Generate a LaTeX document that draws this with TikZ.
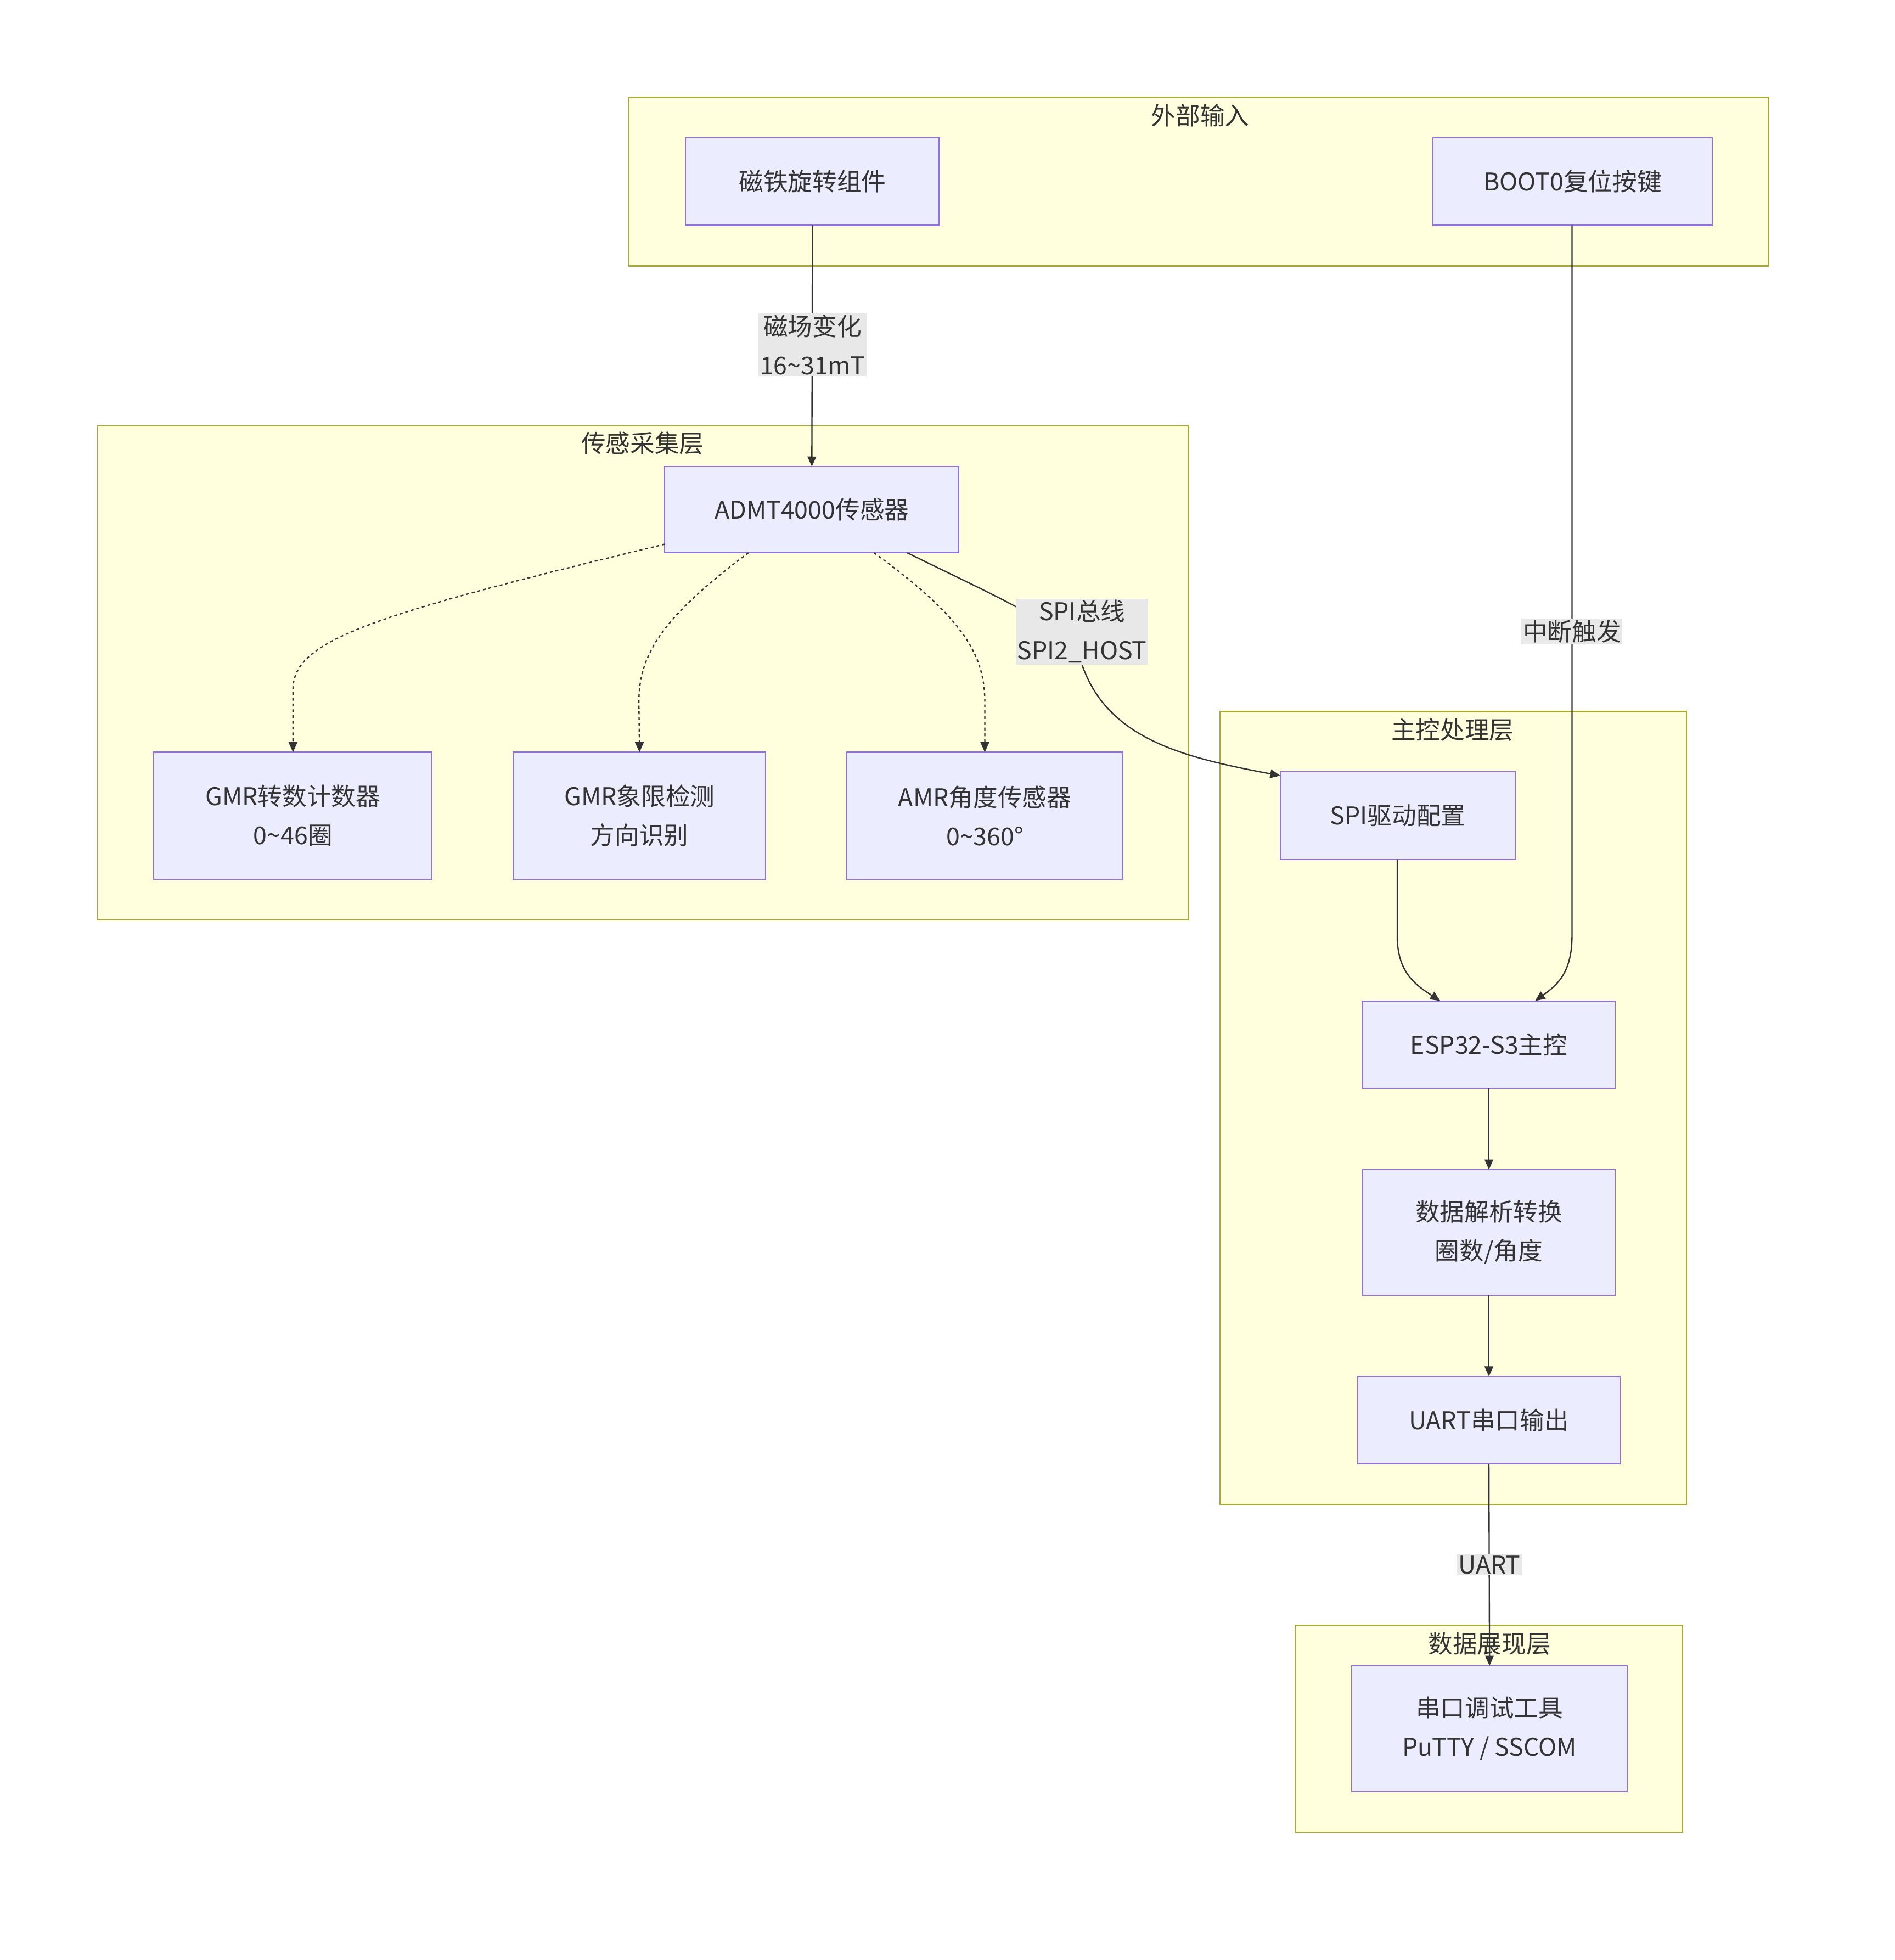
\documentclass[tikz,border=0pt]{standalone}
\usepackage{fontspec}
\setmainfont{Noto Sans CJK SC}
\usetikzlibrary{arrows.meta}
\definecolor{grpfill}{HTML}{FFFFDE}
\definecolor{grpline}{HTML}{AAAA33}
\definecolor{nfill}{HTML}{ECECFF}
\definecolor{nline}{HTML}{9370DB}
\definecolor{txt}{HTML}{333333}
\definecolor{lbl}{HTML}{E8E8E8}
\begin{document}
\begin{tikzpicture}[x=0.03cm,y=-0.03cm,
  grp/.style={draw=grpline,fill=grpfill,line width=0.8pt},
  gt/.style={text=txt,font=\fontsize{17}{21}\selectfont},
  nd/.style={draw=nline,fill=nfill,line width=0.8pt},
  nt/.style={text=txt,font=\fontsize{17}{27}\selectfont,align=center},
  lb/.style={fill=lbl,text=txt,font=\fontsize{17}{27}\selectfont,align=center,inner sep=1pt},
  ar/.style={draw=txt,line width=0.9pt,-{Triangle[length=7pt,width=6pt]}},
  dar/.style={ar,dash pattern=on 2pt off 2pt}]
\useasboundingbox (0,0) rectangle (1539,1592);
% groups
\draw[grp] (511,79) rectangle (1437,216);
\node[gt] (g1) at (975,94) {外部输入};
\draw[grp] (79,346) rectangle (965,747);
\node[gt] (g2) at (522,360) {传感采集层};
\draw[grp] (991,578) rectangle (1370,1222);
\node[gt] (g3) at (1180,593) {主控处理层};
\draw[grp] (1052,1320) rectangle (1367,1488);
% nodes
\newcommand{\mynode}[6]{\draw[nd] (#2,#3) rectangle (#4,#5);
  \node[nt] (#1) at ({(#2+#4)/2},{(#3+#5)/2}) {#6};
  \coordinate (#1n) at ({(#2+#4)/2},#3);\coordinate (#1s) at ({(#2+#4)/2},#5);}
\mynode{mag}{557}{112}{763}{183}{磁铁旋转组件}
\mynode{boot}{1164}{112}{1391}{183}{BOOT0复位按键}
\mynode{admt}{540}{379}{779}{449}{ADMT4000传感器}
\mynode{gmr1}{125}{611}{351}{714}{GMR转数计数器\\0\textasciitilde46圈}
\mynode{gmr2}{417}{611}{622}{714}{GMR象限检测\\方向识别}
\mynode{amr}{688}{611}{912}{714}{AMR角度传感器\\0\textasciitilde360°}
\mynode{spi}{1040}{627}{1231}{698}{SPI驱动配置}
\mynode{esp}{1107}{813}{1312}{884}{ESP32-S3主控}
\mynode{parse}{1107}{950}{1312}{1052}{数据解析转换\\圈数/角度}
\mynode{uart}{1103}{1118}{1316}{1189}{UART串口输出}
\mynode{tool}{1098}{1353}{1322}{1455}{串口调试工具\\PuTTY / SSCOM}
% edges
\coordinate (a1) at (540,442);
\coordinate (a2) at (608,449);
\coordinate (a3) at (710,449);
\coordinate (a4) at (737,449);
\coordinate (s1) at (1040,630);
\coordinate (b1) at (1277,183);
\coordinate (e1) at (1170,813);
\coordinate (e2) at (1247,813);
\coordinate (p1) at (1135,698);
\draw[ar] (mags) -- (admtn);
\node[lb] (l1) at (660,280) {磁场变化\\16\textasciitilde31mT};
\draw[dar] (a1) .. controls (300,500) and (238,520) .. (238,560) -- (gmr1n);
\draw[dar] (a2) .. controls (540,500) and (519,530) .. (519,570) -- (gmr2n);
\draw[dar] (a3) .. controls (780,500) and (800,530) .. (800,570) -- (amrn);
\draw[ar] (a4) .. controls (820,490) and (870,510) .. (879,540) .. controls (900,600) and (960,615) .. (s1);
\node[lb] (l2) at (879,513) {SPI总线\\SPI2\_HOST};
\draw[ar] (b1) -- (1277,760) .. controls (1277,790) and (1265,800) .. (e2);
\node[lb] (l3) at (1277,513) {中断触发};
\draw[ar] (p1) -- (1135,760) .. controls (1135,790) and (1150,800) .. (e1);
\draw[ar] (esps) -- (parsen);
\draw[ar] (parses) -- (uartn);
\draw[ar] (uarts) -- (tooln);
\node[lb] (l4) at (1210,1271) {UART};
\node[gt] (g4) at (1210,1335) {数据展现层};
\end{tikzpicture}
\end{document}
